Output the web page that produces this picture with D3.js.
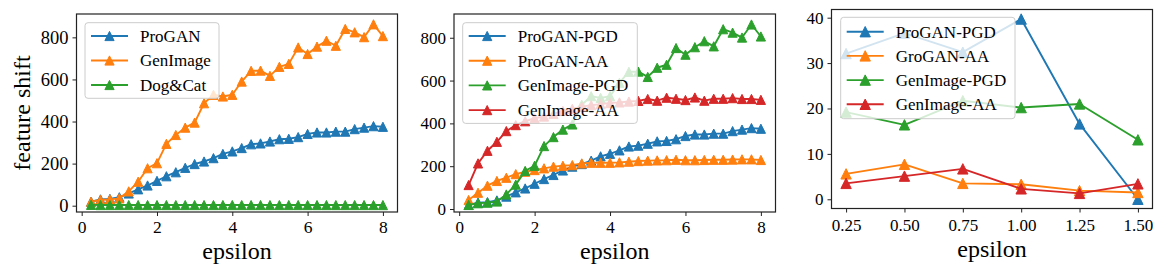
<!DOCTYPE html>
<html>
<head>
<meta charset="utf-8">
<script src="https://cdn.jsdelivr.net/npm/d3@7"></script>
<style>
	body { margin: 0; background: #fff; }
	svg { display: block; }
</style>
</head>
<body>
<svg id="chart" width="1169" height="265"></svg>
<script>
// epsilon values for the two left panels
const epsilon = [0.25, 0.5, 0.75, 1, 1.25, 1.5, 1.75, 2, 2.25, 2.5, 2.75, 3, 3.25, 3.5, 3.75, 4,
	4.25, 4.5, 4.75, 5, 5.25, 5.5, 5.75, 6, 6.25, 6.5, 6.75, 7, 7.25, 7.5, 7.75, 8];

const proganPGD = [19, 30, 32, 40, 58, 78, 96, 118, 140, 159, 180, 198, 210, 226, 246, 258,
	274, 292, 296, 305, 316, 318, 326, 341, 348, 348, 352, 352, 364, 371, 378, 375];
const genImagePGD = [19, 27, 30, 35, 68, 114, 178, 202, 294, 336, 371, 395, 487, 527, 519, 527,
	590, 641, 642, 617, 660, 674, 752, 721, 756, 784, 760, 840, 824, 801, 862, 806];
const dogCat = [4, 3, 3, 3, 3, 3, 3, 3, 3, 3, 3, 3, 3, 3, 3, 3,
	3, 3, 3, 3, 3, 3, 3, 3, 3, 3, 3, 3, 3, 3, 3, 3];
const proganAA = [42, 76, 109, 131, 146, 163, 174, 182, 190, 198, 202, 205, 213, 216, 216, 216,
	218, 221, 224, 226, 227, 228, 230, 228, 228, 229, 230, 230, 231, 232, 232, 229];
const genImageAA = [112, 213, 272, 314, 364, 392, 410, 424, 432, 444, 458, 468, 478, 485, 490, 495,
	498, 502, 505, 514, 506, 520, 515, 509, 521, 506, 515, 515, 518, 514, 514, 510];

// right panel
const epsilonSmall = [0.25, 0.5, 0.75, 1.0, 1.25, 1.5];
const smallProganPGD = [32.1, 36.6, 32.4, 39.7, 16.6, 0.0];
const smallProganAA = [5.6, 7.7, 3.5, 3.3, 1.9, 1.5];
const smallGenImagePGD = [19.2, 16.4, 21.7, 20.2, 21.0, 13.1];
const smallGenImageAA = [3.5, 5.1, 6.7, 2.3, 1.3, 3.4];

const xTicksWide = [0, 2, 4, 6, 8];
const yTicksWide = [0, 200, 400, 600, 800];
const xTicksSmall = [0.25, 0.5, 0.75, 1.0, 1.25, 1.5];
const yTicksSmall = [0, 10, 20, 30, 40];

const colors = ["#1f77b4", "#ff7f0e", "#2ca02c", "#d62728"];
const serif = "'Liberation Serif', 'Times New Roman', serif";

var svg = d3.select("#chart");
svg.append("rect").attr("width", 1169).attr("height", 265).attr("fill", "#fff");

var panels = [
	{
		box: { left: 76.5, right: 397.5, top: 14, bottom: 212 },
		xDomain: [-0.1375, 8.3875], yDomain: [-30, 911],
		xTicks: xTicksWide, yTicks: yTicksWide, xFormat: d3.format("d"),
		x: epsilon, xTickFont: 17.5, yTickFont: 18.5, xPad: 5,
		series: [
			{ name: "ProGAN", values: proganPGD, color: colors[0] },
			{ name: "GenImage", values: genImagePGD, color: colors[1] },
			{ name: "Dog&Cat", values: dogCat, color: colors[2] }
		],
		legend: { x: 85, y: 22.7, w: 134, rowY: 36, rowGap: 24.5 },
		marker: 4.6, yLabel: "feature shift", xLabelY: 259
	},
	{
		box: { left: 454, right: 775.5, top: 14, bottom: 212 },
		xDomain: [-0.1375, 8.3875], yDomain: [-14, 911],
		xTicks: xTicksWide, yTicks: yTicksWide, xFormat: d3.format("d"),
		x: epsilon, xTickFont: 17, yTickFont: 17, xPad: 5,
		series: [
			{ name: "ProGAN-PGD", values: proganPGD, color: colors[0] },
			{ name: "ProGAN-AA", values: proganAA, color: colors[1] },
			{ name: "GenImage-PGD", values: genImagePGD, color: colors[2] },
			{ name: "GenImage-AA", values: genImageAA, color: colors[3] }
		],
		legend: { x: 462.7, y: 22.7, w: 174.6, rowY: 36, rowGap: 24.7 },
		marker: 4.6, xLabelY: 259
	},
	{
		box: { left: 831.5, right: 1152.5, top: 9.5, bottom: 208.5 },
		xDomain: [0.1875, 1.5625], yDomain: [-2.03, 41.8],
		xTicks: xTicksSmall, yTicks: yTicksSmall, xFormat: d3.format(".2f"),
		x: epsilonSmall, xTickFont: 17, yTickFont: 17, xPad: 6,
		series: [
			{ name: "ProGAN-PGD", values: smallProganPGD, color: colors[0] },
			{ name: "GroGAN-AA", values: smallProganAA, color: colors[1] },
			{ name: "GenImage-PGD", values: smallGenImagePGD, color: colors[2] },
			{ name: "GenImage-AA", values: smallGenImageAA, color: colors[3] }
		],
		legend: { x: 840.7, y: 17.3, w: 174.3, rowY: 31.7, rowGap: 24.2 },
		marker: 5.2, xLabelY: 257
	}
];

function trianglePath(s) {
	return "M0," + (-s) + "L" + s + "," + s + "L" + (-s) + "," + s + "Z";
}

panels.forEach(drawPanel);

function drawPanel(p) {
	var b = p.box;
	var xScale = d3.scaleLinear().domain(p.xDomain).range([b.left, b.right]);
	var yScale = d3.scaleLinear().domain(p.yDomain).range([b.bottom, b.top]);

	var g = svg.append("g").attr("font-family", serif);

	// axes
	var xAxis = g.append("g")
		.attr("transform", "translate(0," + b.bottom + ")")
		.call(d3.axisBottom(xScale).tickValues(p.xTicks).tickFormat(p.xFormat).tickSizeOuter(0).tickSize(4).tickPadding(p.xPad));
	var yAxis = g.append("g")
		.attr("transform", "translate(" + b.left + ",0)")
		.call(d3.axisLeft(yScale).tickValues(p.yTicks).tickSizeOuter(0).tickSize(4).tickPadding(4));

	xAxis.attr("font-size", p.xTickFont);
	yAxis.attr("font-size", p.yTickFont);
	[xAxis, yAxis].forEach(function (a) {
		a.attr("font-family", serif);
		a.select(".domain").remove();
		a.selectAll(".tick line").attr("stroke", "#222").attr("stroke-width", 1);
		a.selectAll(".tick text").attr("fill", "#000");
	});

	// lines + markers
	var line = d3.line()
		.x(function (d) { return xScale(d[0]); })
		.y(function (d) { return yScale(d[1]); });

	var plot = g.append("g");
	p.series.forEach(function (s) {
		var pts = p.x.map(function (v, i) { return [v, s.values[i]]; });
		var sg = plot.append("g");
		sg.append("path")
			.attr("d", line(pts))
			.attr("fill", "none")
			.attr("stroke", s.color)
			.attr("stroke-width", 1.9)
			.attr("stroke-linejoin", "round");
		sg.selectAll("path.marker")
			.data(pts)
			.enter()
			.append("path")
			.attr("class", "marker")
			.attr("d", trianglePath(p.marker))
			.attr("transform", function (d) {
				return "translate(" + xScale(d[0]) + "," + yScale(d[1]) + ")";
			})
			.attr("fill", s.color)
			.attr("stroke", s.color)
			.attr("stroke-width", 1);
	});

	// frame
	g.append("rect")
		.attr("x", b.left)
		.attr("y", b.top)
		.attr("width", b.right - b.left)
		.attr("height", b.bottom - b.top)
		.attr("fill", "none")
		.attr("stroke", "#222")
		.attr("stroke-width", 1.2);

	// legend
	var L = p.legend;
	var n = p.series.length;
	var lg = g.append("g");
	lg.append("rect")
		.attr("x", L.x)
		.attr("y", L.y)
		.attr("width", L.w)
		.attr("height", (L.rowY - L.y) * 2 + (n - 1) * L.rowGap)
		.attr("rx", 3)
		.attr("fill", "#fff")
		.attr("fill-opacity", 0.8)
		.attr("stroke", "#cccccc")
		.attr("stroke-width", 1);

	p.series.forEach(function (s, i) {
		var cy = L.rowY + i * L.rowGap;
		var x0 = L.x + 6, x1 = L.x + 43;
		lg.append("line")
			.attr("x1", x0).attr("x2", x1)
			.attr("y1", cy).attr("y2", cy)
			.attr("stroke", s.color)
			.attr("stroke-width", 1.9);
		lg.append("path")
			.attr("d", trianglePath(p.marker))
			.attr("transform", "translate(" + (x0 + x1) / 2 + "," + cy + ")")
			.attr("fill", s.color)
			.attr("stroke", s.color);
		lg.append("text")
			.attr("x", L.x + 55)
			.attr("y", cy)
			.attr("dy", "0.35em")
			.attr("font-size", 17)
			.text(s.name);
	});

	// axis labels
	g.append("text")
		.attr("x", (b.left + b.right) / 2)
		.attr("y", p.xLabelY)
		.attr("text-anchor", "middle")
		.attr("font-size", 24)
		.text("epsilon");

	if (p.yLabel) {
		g.append("text")
			.attr("transform", "translate(30," + (b.top + b.bottom) / 2 + ")rotate(-90)")
			.attr("text-anchor", "middle")
			.attr("font-size", 24)
			.text(p.yLabel);
	}
}
</script>
</body>
</html>
